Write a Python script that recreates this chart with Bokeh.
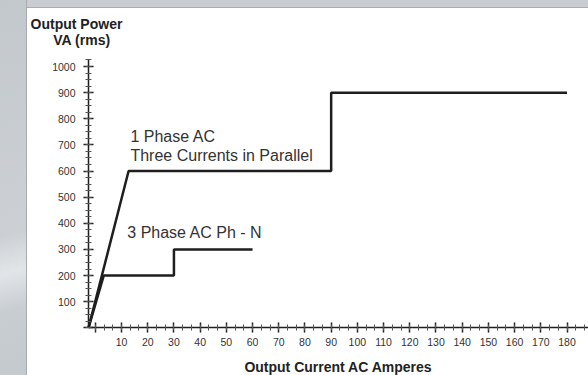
from bokeh.plotting import figure
from bokeh.models import SingleIntervalTicker, Label, Range1d, Div
from bokeh.layouts import row, column
from bokeh.embed import file_html
from bokeh.resources import INLINE

# Data (Output current AC amperes vs output power VA rms)
one_phase_x = [-2.6, 12.7, 90, 90, 180]
one_phase_y = [0, 600, 600, 900, 900]
three_phase_x = [-2.6, 3.2, 30, 30, 60]
three_phase_y = [0, 200, 200, 300, 300]

label_one_phase = ["1 Phase AC", "Three Currents in Parallel"]
label_three_phase = "3 Phase AC Ph - N"
y_title = ["Output Power", "VA (rms)"]
x_title = "Output Current AC Amperes"

FONT = "Liberation Sans"
INK = "#1e1e1e"
TXT = "#333333"

p = figure(width=561, height=367, output_backend="svg", toolbar_location=None,
           x_range=Range1d(-25.88, 188.2), y_range=Range1d(-182.5, 1222),
           min_border=0)
p.border_fill_color = "white"
p.background_fill_color = "white"
p.outline_line_color = None
p.grid.visible = False

p.line(one_phase_x, one_phase_y, line_color=INK, line_width=2.5)
p.line(three_phase_x, three_phase_y, line_color=INK, line_width=2.5)

xa, ya = p.xaxis[0], p.yaxis[0]
for ax in (xa, ya):
    ax.axis_line_color = INK
    ax.axis_line_width = 1.5
    ax.major_tick_line_color = INK
    ax.minor_tick_line_color = "#555555"
    ax.major_tick_line_width = 1.5
    ax.major_tick_in = 5
    ax.major_tick_out = 5
    ax.minor_tick_in = 3
    ax.minor_tick_out = 3
    ax.major_label_text_font = FONT
    ax.major_label_text_font_size = "10.5px"
    ax.major_label_text_color = TXT
    ax.major_label_overrides = {0: ""}

xa.ticker = SingleIntervalTicker(interval=10, num_minor_ticks=3)
ya.ticker = SingleIntervalTicker(interval=100, num_minor_ticks=4)
xa.fixed_location = 0
ya.fixed_location = -2.6
xa.bounds = (-2.6, 200)
ya.bounds = (0, 1025)
xa.major_label_standoff = 5
ya.major_label_standoff = 8
xa.axis_label = x_title
xa.axis_label_text_font = FONT
xa.axis_label_text_font_style = "bold"
xa.axis_label_text_font_size = "14px"
xa.axis_label_text_color = "#222222"
xa.axis_label_standoff = 10

p.add_layout(Label(x=13.4, y=732, text=label_one_phase[0], text_font=FONT, text_font_size="16px",
                   text_color=TXT, text_baseline="middle"))
p.add_layout(Label(x=13.4, y=659, text=label_one_phase[1], text_font=FONT, text_font_size="16px",
                   text_color=TXT, text_baseline="middle"))
p.add_layout(Label(x=12.2, y=365, text=label_three_phase, text_font=FONT, text_font_size="16px",
                   text_color=TXT, text_baseline="middle"))
p.add_layout(Label(x=-24.7, y=1164, text=y_title[0], text_font=FONT, text_font_size="14px",
                   text_font_style="bold", text_color="#222222", text_baseline="middle"))
p.add_layout(Label(x=-5.1, y=1103, text=y_title[1], text_font=FONT, text_font_size="14px",
                   text_font_style="bold", text_color="#222222", text_baseline="middle",
                   text_align="center"))

strip = Div(width=27, height=375, margin=0,
            styles={"background": "linear-gradient(165deg, #c3c8cd 0%, #ccd0d4 62%, #e2e5e8 72%, #c8cdd2 82%, #c4c9ce 100%)",
                    "border-right": "1px solid #a8adb2", "box-sizing": "border-box"})
topbar = Div(width=561, height=8, margin=0,
             styles={"background": "#c9cdd1", "border-bottom": "1px solid #a8adb2",
                     "box-sizing": "border-box"})
layout = row(strip, column(topbar, p, spacing=0), spacing=0)

open("out.html", "w").write(file_html(layout, INLINE))
